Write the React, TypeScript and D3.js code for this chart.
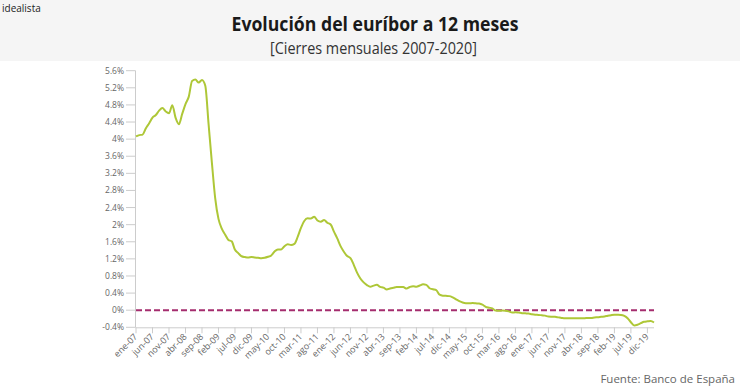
import React from "react";
import * as d3 from "d3";

const MONTHS = ["ene", "feb", "mar", "abr", "may", "jun", "jul", "ago", "sep", "oct", "nov", "dic"];
const START_YEAR = 2007;

const v2007 = [4.064, 4.094, 4.106, 4.253, 4.373, 4.505, 4.564, 4.666, 4.725, 4.647, 4.607, 4.793];
const v2008 = [4.498, 4.349, 4.59, 4.82, 4.994, 5.361, 5.393, 5.323, 5.384, 5.248, 4.35, 3.452];
const v2009 = [2.622, 2.135, 1.909, 1.771, 1.644, 1.61, 1.412, 1.334, 1.261, 1.243, 1.231, 1.242];
const v2010 = [1.232, 1.225, 1.215, 1.225, 1.249, 1.281, 1.373, 1.421, 1.42, 1.495, 1.541, 1.526];
const v2011 = [1.55, 1.714, 1.924, 2.086, 2.147, 2.144, 2.183, 2.097, 2.067, 2.11, 2.044, 2.004];
const v2012 = [1.837, 1.678, 1.499, 1.368, 1.266, 1.219, 1.061, 0.877, 0.74, 0.65, 0.588, 0.549];
const v2013 = [0.575, 0.594, 0.545, 0.528, 0.484, 0.507, 0.525, 0.542, 0.543, 0.541, 0.506, 0.543];
const v2014 = [0.562, 0.549, 0.577, 0.604, 0.592, 0.513, 0.488, 0.469, 0.362, 0.338, 0.335, 0.329];
const v2015 = [0.298, 0.255, 0.212, 0.18, 0.165, 0.163, 0.167, 0.161, 0.154, 0.128, 0.079, 0.059];
const v2016 = [0.042, -0.008, -0.012, -0.01, -0.013, -0.028, -0.056, -0.048, -0.057, -0.069, -0.074, -0.08];
const v2017 = [-0.095, -0.106, -0.11, -0.119, -0.127, -0.149, -0.154, -0.156, -0.168, -0.18, -0.189, -0.19];
const v2018 = [-0.189, -0.191, -0.191, -0.19, -0.188, -0.181, -0.18, -0.169, -0.166, -0.154, -0.147, -0.129];
const v2019 = [-0.116, -0.108, -0.109, -0.112, -0.134, -0.19, -0.283, -0.356, -0.339, -0.304, -0.272, -0.261];
const v2020 = [-0.253, -0.288];

const values = [
  ...v2007, ...v2008, ...v2009, ...v2010, ...v2011, ...v2012, ...v2013,
  ...v2014, ...v2015, ...v2016, ...v2017, ...v2018, ...v2019, ...v2020,
];

const yTicks = [-0.4, 0, 0.4, 0.8, 1.2, 1.6, 2, 2.4, 2.8, 3.2, 3.6, 4, 4.4, 4.8, 5.2, 5.6];
const X_TICK_STEP = 5;

const monthLabel = (i: number) => {
  const y = START_YEAR + Math.floor(i / 12);
  return `${MONTHS[i % 12]}-${String(y).slice(2)}`;
};

const FONT = "'Open Sans', 'Noto Sans', sans-serif";

export default function App() {
  const W = 740;
  const H = 389;
  const x = d3.scaleLinear().domain([0, values.length - 1]).range([136, 654]);
  const y = d3.scaleLinear().domain([-0.4, 5.6]).range([327.3, 70.7]);

  const line = d3
    .line<number>()
    .x((_, i) => x(i))
    .y((d) => y(d))
    .curve(d3.curveMonotoneX);

  const xTickIdx = d3.range(0, values.length - 1, X_TICK_STEP).filter((i) => i <= 155);
  const fmt = (v: number) => `${+v.toFixed(1)}%`;

  return (
    <svg
      width={W}
      height={H}
      style={{ position: "absolute", left: 0, top: 0, background: "#fff" }}
      fontFamily={FONT}
    >
      <rect x={0} y={0} width={W} height={61} fill="#f5f5f5" />
      <text x={2} y={12} fontSize={10} fill="#222" fontWeight={500}>idealista</text>
      <text
        x={375}
        y={31}
        textAnchor="middle"
        fontSize={20}
        fontWeight={700}
        fill="#1a1a1a"
        textLength={287}
        lengthAdjust="spacingAndGlyphs"
      >
        Evolución del euríbor a 12 meses
      </text>
      <text
        x={373.5}
        y={54}
        textAnchor="middle"
        fontSize={16}
        fill="#333"
        textLength={207}
        lengthAdjust="spacingAndGlyphs"
      >
        [Cierres mensuales 2007-2020]
      </text>

      {/* y axis */}
      <line x1={135.5} x2={135.5} y1={y(5.6)} y2={y(-0.4)} stroke="#ccc" strokeWidth={1} />
      {yTicks.map((t) => (
        <g key={t}>
          <line x1={126} x2={135.5} y1={y(t)} y2={y(t)} stroke="#ccc" />
          <text x={124} y={y(t) + 3} textAnchor="end" fontSize={8.5} fill="#666">
            {fmt(t)}
          </text>
        </g>
      ))}

      {/* x axis */}
      <line x1={135.5} x2={x(values.length - 1)} y1={y(-0.4) + 0.5} y2={y(-0.4) + 0.5} stroke="#ccc" />
      {xTickIdx.map((i) => (
        <g key={i}>
          <line x1={x(i)} x2={x(i)} y1={y(-0.4)} y2={y(-0.4) + 6} stroke="#ccc" />
          <text
            transform={`translate(${x(i) + 2},${y(-0.4) + 10}) rotate(-45)`}
            textAnchor="end"
            fontSize={9}
            fill="#666"
          >
            {monthLabel(i)}
          </text>
        </g>
      ))}

      {/* zero line */}
      <line
        x1={136}
        x2={x(values.length - 1)}
        y1={y(0)}
        y2={y(0)}
        stroke="#a52d6e"
        strokeWidth={2}
        strokeDasharray="6,3"
      />

      <path d={line(values) || ""} fill="none" stroke="#aec737" strokeWidth={2} strokeLinejoin="round" />

      <text x={735} y={383} textAnchor="end" fontSize={11.5} fill="#666">
        Fuente: Banco de España
      </text>
    </svg>
  );
}
